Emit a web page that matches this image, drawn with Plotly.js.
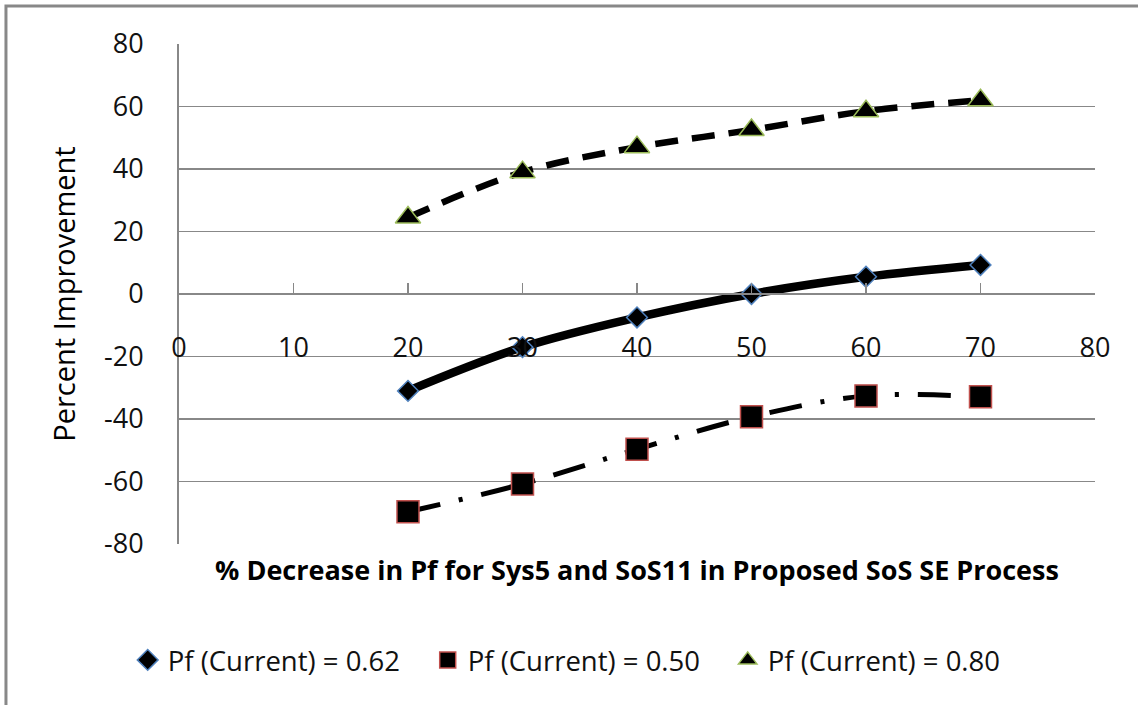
<!DOCTYPE html>
<html>
<head>
<meta charset="utf-8">
<script src="https://cdn.plot.ly/plotly-3.0.1.min.js"></script>
<style>html,body{margin:0;padding:0;background:#fff;}#chart{width:1138px;height:705px;}</style>
</head>
<body>
<div id="chart"></div>
<script>
// Data
var xValues = [20, 30, 40, 50, 60, 70];
var seriesNames = ["Pf (Current) = 0.62", "Pf (Current) = 0.50", "Pf (Current) = 0.80"];
var pf062 = [-31, -17, -7.5, 0, 5.5, 9.3];
var pf050 = [-69.7, -60.8, -49.7, -39.3, -32.6, -32.9];
var pf080 = [24.5, 39, 47, 52.5, 58.5, 62];
var xTicks = [0, 10, 20, 30, 40, 50, 60, 70, 80];
var yTicks = [-80, -60, -40, -20, 0, 20, 40, 60, 80];
var xTitle = "% Decrease in Pf for Sys5 and SoS11 in Proposed SoS SE Process";
var yTitle = "Percent Improvement";

var FONT = "Open Sans, Noto Sans, sans-serif";

function lineTrace(y, dash, width) {
  return {x: xValues, y: y, mode: "lines", showlegend: false, hoverinfo: "skip",
          line: {color: "#000", width: width, dash: dash, shape: "spline", smoothing: 1}};
}
function markerTrace(y, name, symbol, size, outline) {
  return {x: xValues, y: y, mode: "markers", name: name,
          marker: {symbol: symbol, size: size, color: "#000", line: {color: outline, width: 1.5}}};
}

var traces = [
  lineTrace(pf062, "solid", 8.5),
  lineTrace(pf050, "33px,19px,4px,19px", 5),
  lineTrace(pf080, "23px,14px", 6.5),
  markerTrace(pf062, seriesNames[0], "diamond", 16, "#4F81BD"),
  markerTrace(pf050, seriesNames[1], "square", 22, "#C0504D"),
  markerTrace(pf080, seriesNames[2], "triangle-up", 22, "#9BBB59")
];

var layout = {
  width: 1138, height: 705,
  margin: {l: 179, r: 43, t: 44, b: 161},
  paper_bgcolor: "#fff", plot_bgcolor: "#fff",
  font: {family: FONT, color: "#111"},
  showlegend: true,
  legend: {orientation: "h", x: -0.056, xanchor: "left", y: -0.232, yanchor: "middle",
           font: {family: FONT, size: 27.5, color: "#111"}, entrywidth: 255, traceorder: "normal"},
  xaxis: {
    range: [0, 80], tickvals: xTicks, ticktext: xTicks.map(String),
    anchor: "free", position: 0.5,
    showline: true, linecolor: "#888", linewidth: 2,
    ticks: "inside", ticklen: 10, tickwidth: 1.5, tickcolor: "#888",
    ticklabelstandoff: 30,
    showgrid: false, zeroline: false,
    tickfont: {family: FONT, size: 27, color: "#111"},
    title: {text: xTitle, font: {family: FONT, size: 27, color: "#000", weight: "bold"}, standoff: 196}
  },
  yaxis: {
    range: [-80, 80], tickvals: yTicks, ticktext: yTicks.map(String),
    showline: true, linecolor: "#888", linewidth: 2,
    ticks: "", ticklabelstandoff: 28,
    showgrid: true, gridcolor: "#888", gridwidth: 1.5,
    zeroline: false,
    tickfont: {family: FONT, size: 27, color: "#111"},
    title: {text: yTitle, font: {family: FONT, size: 29, color: "#000"}, standoff: 20}
  },
  shapes: [{type: "rect", xref: "paper", yref: "paper",
            x0: -0.1889, x1: 1.08, y0: -0.4, y1: 1.076,
            line: {color: "#888", width: 3}, fillcolor: "rgba(0,0,0,0)", layer: "below"}]
};

Plotly.newPlot("chart", traces, layout, {displayModeBar: false, staticPlot: true});
</script>
</body>
</html>
